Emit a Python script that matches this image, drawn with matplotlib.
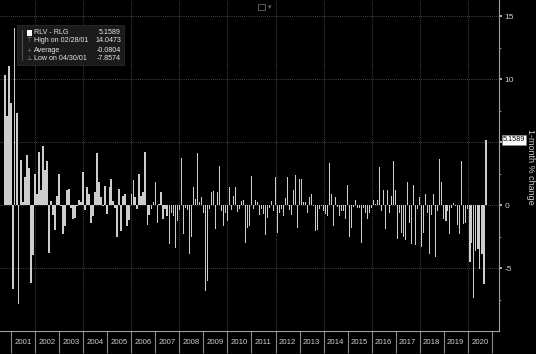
import datetime as dt
import matplotlib
matplotlib.use("Agg")
import matplotlib.pyplot as plt
import matplotlib.dates as mdates
from matplotlib.patches import Rectangle
import pandas as pd

plt.rcParams['font.family'] = ['Liberation Sans', 'DejaVu Sans']

# monthly RLV - RLG spread, Sep 2000 .. Sep 2020
spread = [
    10.3, 7.1, 11.0, 8.1, -6.7, 14.0473, 7.3, -7.8574, 3.6, 0.2, 2.2, 4.0,
    2.9, -6.2, -4.0, 2.5, 0.9, 4.2, 1.2, 4.7, 2.8, 3.5, -3.8, 0.3,
    -0.8, -2.0, 0.7, 2.5, -0.1, -2.3, -1.7, 1.2, 1.3, -0.2, -1.1, -1.0,
    -0.1, 0.4, 0.2, 2.6, -0.4, 1.4, 0.9, -1.4, -0.9, 1.0, 4.1, 1.8,
    0.6, -0.05, 1.5, -0.7, 1.4, 2.1, 0.3, -0.2, -2.5, 1.3, -2.1, 0.7,
    0.9, -1.7, -1.2, 0.9, 2.0, 0.6, -0.3, 2.5, 0.7, 1.0, 4.2, -1.6,
    -0.8, -0.3, 0.2, 1.8, -1.4, 0.1, 1.0, -1.1, -0.3, -0.9, -3.1, -0.6,
    -0.9, -3.4, -1.3, -0.4, 3.7, -2.3, -0.2, -0.4, -3.9, -2.5, 1.4, 0.5,
    4.1, 0.2, 0.65, -0.6, -6.8, -6.0, -0.35, 1.0, 1.15, -1.9, 1.0, 3.1,
    -0.45, -1.7, -0.6, -1.3, 1.45, -0.4, 0.7, 1.4, -0.55, -0.3, 0.35, 0.4,
    -3.0, -1.85, -1.7, 2.3, -0.35, 0.4, 0.2, -0.8, -0.3, -0.7, -2.4, -1.0,
    -0.25, 0.35, -0.45, 2.2, -2.25, -0.6, -0.35, -0.9, 0.55, 2.2, -0.4, -0.8,
    1.2, 2.4, -1.8, 2.05, 2.1, 0.2, 0.2, -0.6, 0.65, 0.9, -0.1, -2.05,
    -2.0, -0.3, -0.1, -0.45, -0.7, -0.9, 3.35, 0.9, -1.7, 0.65, -0.15, -0.9,
    -0.5, -0.45, -1.1, 1.6, -2.5, -1.85, -0.15, 0.4, -0.25, -0.2, -3.0, -0.2,
    -0.65, -1.1, -0.65, -0.2, 0.4, 0.1, 0.4, 3.0, -0.5, 1.2, -1.9, 1.2,
    -0.65, 0.7, 3.5, 1.2, -2.7, -0.65, -2.25, -2.5, -2.8, 1.85, -1.45, -3.1,
    1.6, -3.2, -0.3, 0.6, -3.3, -2.25, 0.9, -0.6, -3.9, -0.8, 0.9, -4.1,
    -0.45, 3.65, 1.85, -1.1, -1.3, -0.5, -2.3, -0.25, 0.15, -0.1, -1.55, -2.3,
    3.5, -1.5, -1.4, -0.3, -4.5, -3.0, -7.35, -3.65, -3.5, -5.05, -3.9, -6.3,
    5.1589,
]
dates = pd.date_range("2000-09-30", periods=len(spread), freq="ME")
years = list(range(2001, 2021))
yticks = [-5, 0, 5, 10, 15]
ytick_labels = ["-5", "0", "", "10", "15"]  # the "5" sits under the value tag
legend_rows = [("RLV - RLG", "5.1589"), ("High on 02/28/01", "14.0473"),
               ("Average", "-0.0804"), ("Low on 04/30/01", "-7.8574")]
last_value = "5.1589"

W, H = 536, 354
fig = plt.figure(figsize=(W / 100, H / 100), dpi=100, facecolor="black")
ax = fig.add_axes([0, 1 - 331 / H, 499 / W, 331 / H])
ax.set_facecolor("black")

# x scale: 2001 starts at px 11, 2021 at px 492
x0 = mdates.date2num(dt.date(2001, 1, 1))
x1 = mdates.date2num(dt.date(2021, 1, 1))
ppd = (492 - 11) / (x1 - x0)
ax.set_xlim(x0 - 11 / ppd, x0 + (499 - 11) / ppd)
ax.set_ylim(-10, 16.27)

ax.bar(dates, spread, width=20, color="#cdcdcd", linewidth=0, zorder=3)

# grid
for y in yticks:
    ax.axhline(y, color="#5a5a5a", lw=0.6, ls=(0, (1, 1.5)), zorder=1)
for yr in range(2002, 2021, 2):
    ax.axvline(mdates.date2num(dt.date(yr, 1, 1)), color="#5a5a5a", lw=0.6,
               ls=(0, (1, 1.5)), zorder=1)

# x axis: year boxes
ax.set_xticks([mdates.date2num(dt.date(y, 1, 1)) for y in years + [2021]])
ax.set_xticklabels([])
ax.set_xticks([mdates.date2num(dt.date(y, 7, 1)) for y in years], minor=True)
ax.set_xticklabels([str(y) for y in years], minor=True)
ax.tick_params(axis="x", which="major", length=16, color="#8a8a8a", width=0.8)
ax.tick_params(axis="x", which="minor", length=0, pad=6, labelsize=5.6,
               labelcolor="#cfcfcf")

# y axis on the right
ax.yaxis.tick_right()
ax.set_yticks(yticks)
ax.set_yticklabels(ytick_labels)
ax.set_yticks([-7.5, -2.5, 2.5, 7.5, 12.5], minor=True)
ax.tick_params(axis="y", which="major", length=2.5, width=1.2, color="#cfcfcf",
               pad=1.5, labelsize=6, labelcolor="#cfcfcf")
ax.tick_params(axis="y", which="minor", length=1.5, color="#9a9a9a")
ax.yaxis.set_label_position("right")
ax.set_ylabel("1-month % change", rotation=270, color="#cfcfcf", fontsize=6.5,
              va="center", ha="center")
ax.yaxis.set_label_coords(530 / 499, 0.495)

for s in ["top", "left"]:
    ax.spines[s].set_visible(False)
for s in ["right", "bottom"]:
    ax.spines[s].set_color("#a0a0a0")
    ax.spines[s].set_linewidth(0.8)

# last value tag
ax.text(1.008, spread[-1], last_value, transform=ax.get_yaxis_transform(),
        fontsize=5.2, color="black", va="center", ha="left", zorder=5,
        bbox=dict(boxstyle="square,pad=0.15", fc="white", ec="#888", lw=0.5),
        clip_on=False)


def fx(px):
    return px / W


def fy(py):
    return 1 - py / H


# legend panel
fig.patches.append(Rectangle((fx(17), fy(65)), fx(124) - fx(17), fy(25) - fy(65),
                             transform=fig.transFigure, fc="#1b1b1b",
                             ec="#2a2a2a", lw=0.6, zorder=4))
row_y = [32, 41, 50, 59]
fig.patches.append(Rectangle((fx(26.5), fy(35.5)), 5 / W, 6 / H,
                             transform=fig.transFigure, fc="white",
                             ec="white", lw=0, zorder=5))
marks = ["", "\u22a4", "+", "\u22a5"]
for (name, val), py, mk in zip(legend_rows, row_y, marks):
    fig.text(fx(34), fy(py), name, fontsize=5.1, color="#e6e6e6",
             va="center", ha="left", zorder=6)
    fig.text(fx(121), fy(py), val, fontsize=5.1, color="#e6e6e6",
             va="center", ha="right", zorder=6)
    if mk:
        fig.text(fx(29), fy(py), mk, fontsize=4.5, color="#8a8a8a",
                 va="center", ha="center", family="DejaVu Sans", zorder=6)
fig.add_artist(plt.Line2D([fx(22), fx(22)], [fy(30), fy(60)], color="#666",
                          lw=0.5, zorder=6))

# small chart-type icon on top
fig.patches.append(Rectangle((fx(258), fy(10)), 7 / W, 6 / H,
                             transform=fig.transFigure, fc="none",
                             ec="#6a6a6a", lw=0.6))
fig.text(fx(270), fy(7), "\u25be", fontsize=5, color="#6a6a6a",
         va="center", ha="center", family="DejaVu Sans")

fig.savefig("out.png", dpi=100, facecolor="black")
